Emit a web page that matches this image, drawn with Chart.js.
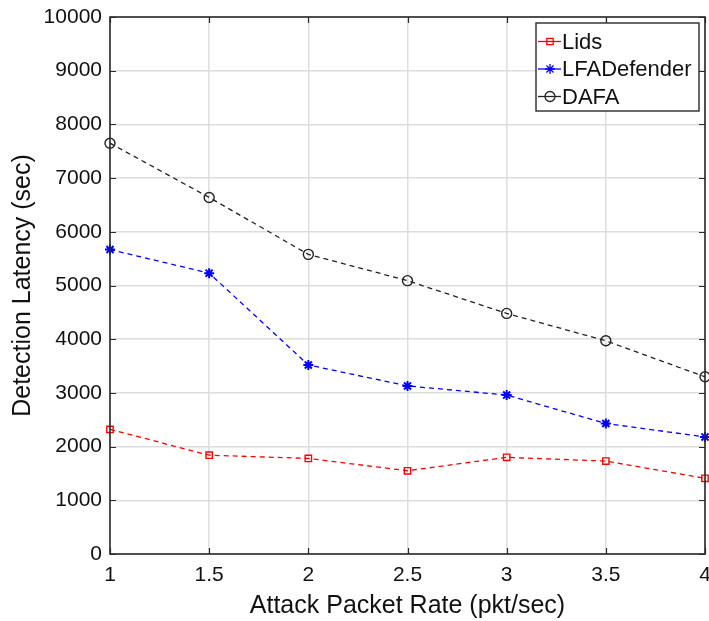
<!DOCTYPE html>
<html><head><meta charset="utf-8">
<script src="https://cdn.jsdelivr.net/npm/chart.js@4"></script>
<style>html,body{margin:0;padding:0;background:#fff}#wrap{width:709px;height:621px}</style>
</head><body><div id="wrap"><canvas id="c" width="709" height="621"></canvas></div>
<script>
const xValues = [1, 1.5, 2, 2.5, 3, 3.5, 4];
const lidsValues = [2320, 1840, 1780, 1550, 1800, 1730, 1410];
const lfaValues = [5670, 5230, 3520, 3130, 2960, 2430, 2180];
const dafaValues = [7650, 6640, 5580, 5090, 4480, 3970, 3300];
const seriesNames = ['Lids', 'LFADefender', 'DAFA'];
const xTitle = 'Attack Packet Rate (pkt/sec)';
const yTitle = 'Detection Latency (sec)';

const FONT = 'Liberation Sans, Arial, sans-serif';
const pts = arr => arr.map((v, i) => ({x: xValues[i], y: v}));

// keep the plot's right edge where the reference has it (label "4" is clipped there)
const areaPlugin = {
  id: 'area',
  afterLayout(chart) {
    const R = 705;
    const a = chart.chartArea;
    a.right = R; a.width = R - a.left;
    const xs = chart.scales.x;
    xs.right = R; xs.width = R - xs.left;
    xs.configure();
  }
};

const framePlugin = {
  id: 'frame',
  afterDatasetsDraw(chart) {
    const {ctx, chartArea: a, scales} = chart;
    ctx.save();
    ctx.strokeStyle = '#2a2a2a';
    ctx.lineWidth = 1.6;
    ctx.strokeRect(a.left, a.top, a.right - a.left, a.bottom - a.top);
    ctx.lineWidth = 1.2;
    const L = 6;
    scales.x.ticks.forEach(t => {
      const px = Math.round(scales.x.getPixelForValue(t.value)) + 0.5;
      ctx.beginPath();
      ctx.moveTo(px, a.bottom); ctx.lineTo(px, a.bottom - L);
      ctx.moveTo(px, a.top); ctx.lineTo(px, a.top + L);
      ctx.stroke();
    });
    scales.y.ticks.forEach(t => {
      const py = Math.round(scales.y.getPixelForValue(t.value)) + 0.5;
      ctx.beginPath();
      ctx.moveTo(a.left, py); ctx.lineTo(a.left + L, py);
      ctx.moveTo(a.right, py); ctx.lineTo(a.right - L, py);
      ctx.stroke();
    });
    // legend box
    const bx = 536, by = 23, bw = 163, bh = 88;
    ctx.fillStyle = '#fff';
    ctx.fillRect(bx, by, bw, bh);
    ctx.strokeStyle = '#2a2a2a';
    ctx.lineWidth = 1.4;
    ctx.strokeRect(bx, by, bw, bh);
    chart.data.datasets.forEach((ds, i) => {
      const cy = by + 18.5 + i * 27.5;
      ctx.strokeStyle = ds.borderColor;
      ctx.lineWidth = 1.3;
      ctx.setLineDash([]);
      ctx.beginPath(); ctx.moveTo(bx + 2, cy); ctx.lineTo(bx + 25, cy); ctx.stroke();
      ctx.fillStyle = 'rgba(0,0,0,0)';
      Chart.helpers.drawPoint(ctx, {pointStyle: ds.pointStyle, radius: ds.pointRadius, borderWidth: 1.4, rotation: 0}, bx + 14, cy);
      ctx.fillStyle = '#111';
      ctx.font = '22px ' + FONT;
      ctx.textBaseline = 'middle';
      ctx.textAlign = 'left';
      ctx.fillText(ds.label, bx + 26, cy + 1);
    });
    ctx.restore();
  }
};

const mk = (label, data, color, style, r, bw) => ({
  label, data: pts(data), borderColor: color, backgroundColor: 'rgba(0,0,0,0)',
  borderDash: [5, 4], borderWidth: 1.3, pointStyle: style, pointRadius: r,
  pointBorderWidth: bw, pointBackgroundColor: 'rgba(0,0,0,0)', pointBorderColor: color,
  tension: 0, fill: false, clip: false
});

new Chart(document.getElementById('c'), {
  type: 'line',
  data: { datasets: [
    mk(seriesNames[0], lidsValues, '#ff0000', 'rect', 4.5, 1.4),
    mk(seriesNames[1], lfaValues, '#0000ff', 'star', 5, 2),
    mk(seriesNames[2], dafaValues, '#222222', 'circle', 5, 1.4)
  ]},
  options: {
    responsive: false, animation: false, devicePixelRatio: 1,
    layout: { padding: {top: 17, right: 4, left: 0, bottom: 0} },
    plugins: { legend: {display: false}, tooltip: {enabled: false} },
    scales: {
      x: {
        type: 'linear', min: 1, max: 4,
        ticks: { stepSize: 0.5, color: '#111', font: {family: FONT, size: 21}, padding: 0, maxRotation: 0,
          callback: v => String(v) },
        grid: { color: '#dddddd', lineWidth: 1.5, drawTicks: true, tickLength: 9, tickColor: 'rgba(0,0,0,0)' },
        border: { display: false },
        title: { display: true, text: xTitle, color: '#111', font: {family: FONT, size: 25}, padding: {top: 0, bottom: 0} },
        afterFit: s => { s.height = 67; s.paddingLeft = 0; s.paddingRight = 0; }
      },
      y: {
        min: 0, max: 10000,
        ticks: { stepSize: 1000, color: '#111', font: {family: FONT, size: 21}, padding: 0,
          callback: v => String(v) },
        grid: { color: '#dddddd', lineWidth: 1.5, drawTicks: true, tickLength: 8, tickColor: 'rgba(0,0,0,0)' },
        border: { display: false },
        title: { display: true, text: yTitle, color: '#111', font: {family: FONT, size: 25}, padding: {top: 8, bottom: 0} },
        afterFit: s => { s.width = 110; s.paddingTop = 0; s.paddingBottom = 0; }
      }
    }
  },
  plugins: [areaPlugin, framePlugin]
});
</script></body></html>
